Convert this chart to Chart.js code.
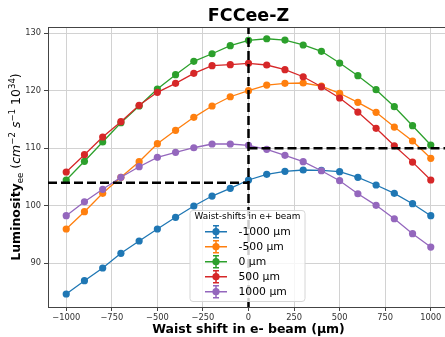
<!DOCTYPE html>
<html>
<head>
<meta charset="utf-8">
<script src="https://cdn.jsdelivr.net/npm/chart.js@4"></script>
<style>
  html, body { margin: 0; padding: 0; background: #fff; overflow: hidden; }
  #lumiChart { display: block; }
</style>
</head>
<body>
<canvas id="lumiChart" width="453" height="337"></canvas>
<script>
const chartTitle = "FCCee-Z";
const xTitle = "Waist shift in e- beam (µm)";
const legendTitle = "Waist-shifts in e+ beam";

// waist shift of the e- beam (µm)
const shiftsX = [-1000, -900, -800, -700, -600, -500, -400, -300, -200, -100, 0,
                 100, 200, 300, 400, 500, 600, 700, 800, 900, 1000];

const seriesLabels = ["-1000 µm", "-500 µm", "0 µm", "500 µm", "1000 µm"];
const lumiMinus1000 = [84.66, 86.97, 89.18, 91.74, 93.88, 95.97, 98.0, 99.97, 101.7, 103.04, 104.49,
                       105.48, 106.0, 106.23, 106.17, 105.93, 104.96, 103.62, 102.17, 100.37, 98.28];
const lumiMinus500 = [95.97, 98.98, 102.17, 104.96, 107.67, 110.8, 113.13, 115.39, 117.36, 118.97, 120.02,
                      121.0, 121.3, 121.36, 120.83, 119.57, 118.0, 116.26, 113.7, 111.27, 108.26];
const lumiZero = [104.49, 107.74, 111.1, 114.45, 117.36, 120.3, 122.8, 125.13, 126.45, 127.85, 128.78,
                  129.06, 128.83, 127.97, 126.87, 124.83, 122.63, 120.2, 117.24, 113.93, 110.57];
const lumiPlus500 = [105.88, 108.89, 111.97, 114.63, 117.48, 119.74, 121.3, 123.04, 124.37, 124.55, 124.78,
                     124.49, 123.67, 122.45, 120.7, 118.75, 116.31, 113.48, 110.45, 107.6, 104.49];
const lumiPlus1000 = [98.28, 100.71, 102.87, 104.96, 106.8, 108.43, 109.3, 110.1, 110.75, 110.75, 110.52,
                      109.83, 108.78, 107.67, 106.1, 104.37, 102.1, 100.08, 97.75, 95.15, 92.83];

const xTicks = [-1000, -750, -500, -250, 0, 250, 500, 750, 1000];
const yTicks = [90, 100, 110, 120, 130];

// reference lines
const refShiftX = 0;
const refLumiLeft = 104;
const refLumiRight = 110;

const xMin = -1100, xMax = 1100;
const yMin = 82.4, yMax = 131.1;

const seriesValues = [lumiMinus1000, lumiMinus500, lumiZero, lumiPlus500, lumiPlus1000];
const seriesColors = ["#1f77b4", "#ff7f0e", "#2ca02c", "#d62728", "#9467bd"];

const FONT = '"DejaVu Sans", sans-serif';

function toPoints(values) {
    return shiftsX.map((x, i) => ({ x: x, y: values[i] }));
}

function formatTick(v) {
    return v < 0 ? "\u2212" + Math.abs(v) : String(v);
}

const datasets = seriesValues.map((values, i) => ({
    label: seriesLabels[i],
    data: toPoints(values),
    borderColor: seriesColors[i],
    backgroundColor: seriesColors[i],
    borderWidth: 1.3,
    pointRadius: 3.6,
    pointBorderWidth: 0,
    pointBackgroundColor: seriesColors[i],
    tension: 0,
    order: seriesValues.length - i
}));

const dashStyle = {
    borderColor: "#000",
    borderWidth: 2.5,
    borderDash: [9, 4],
    pointRadius: 0,
    order: 0
};
datasets.push({ ...dashStyle, data: [{ x: xMin, y: refLumiLeft }, { x: refShiftX, y: refLumiLeft }] });
datasets.push({ ...dashStyle, data: [{ x: refShiftX, y: refLumiRight }, { x: xMax, y: refLumiRight }] });
datasets.push({ ...dashStyle, data: [{ x: refShiftX, y: yMin }, { x: refShiftX, y: yMax }] });

function drawRuns(ctx, runs, cx, cy) {
    let total = 0;
    runs.forEach(r => { ctx.font = r.font; r.w = ctx.measureText(r.text).width; total += r.w; });
    let x = cx - total / 2;
    runs.forEach(r => {
        ctx.font = r.font;
        ctx.fillText(r.text, x, cy + (r.dy || 0));
        x += r.w;
    });
}

function drawYLabel(ctx, x, y) {
    const big = "12.5px " + FONT;
    const small = "8.6px " + FONT;
    const runs = [
        { text: "Luminosity", font: "bold " + big },
        { text: "ee", font: small, dy: 3 },
        { text: " (", font: big },
        { text: "cm", font: "italic " + big },
        { text: "\u22122", font: small, dy: -5 },
        { text: " ", font: big },
        { text: "s", font: "italic " + big },
        { text: "\u22121", font: small, dy: -5 },
        { text: " 10", font: big },
        { text: "34", font: small, dy: -5 },
        { text: ")", font: big }
    ];
    ctx.save();
    ctx.translate(x, y);
    ctx.rotate(-Math.PI / 2);
    ctx.fillStyle = "#000";
    ctx.textAlign = "left";
    ctx.textBaseline = "alphabetic";
    drawRuns(ctx, runs, 0, 0);
    ctx.restore();
}

function drawLegend(ctx) {
    const box = { x: 190, y: 210.5, w: 115, h: 91 };
    ctx.save();
    ctx.beginPath();
    ctx.roundRect(box.x, box.y, box.w, box.h, 3);
    ctx.fillStyle = "rgba(255,255,255,0.8)";
    ctx.fill();
    ctx.strokeStyle = "#d6d6d6";
    ctx.lineWidth = 1;
    ctx.stroke();

    ctx.fillStyle = "#000";
    ctx.font = "8.9px " + FONT;
    ctx.textAlign = "center";
    ctx.textBaseline = "middle";
    ctx.fillText(legendTitle, box.x + box.w / 2, 217);

    seriesLabels.forEach((label, i) => {
        const y = 231.7 + i * 15;
        const c = seriesColors[i];
        ctx.strokeStyle = c;
        ctx.lineWidth = 1.5;
        ctx.beginPath();
        ctx.moveTo(205, y); ctx.lineTo(227, y);
        ctx.moveTo(216, y - 6); ctx.lineTo(216, y + 6);
        ctx.moveTo(213, y - 6); ctx.lineTo(219, y - 6);
        ctx.moveTo(213, y + 6); ctx.lineTo(219, y + 6);
        ctx.stroke();
        ctx.fillStyle = c;
        ctx.beginPath();
        ctx.arc(216, y, 3.6, 0, Math.PI * 2);
        ctx.fill();
        ctx.fillStyle = "#000";
        ctx.font = "10.8px " + FONT;
        ctx.textAlign = "left";
        ctx.fillText(label, 238.5, y);
    });
    ctx.restore();
}

const decorations = {
    id: "decorations",
    afterDraw(chart) {
        const ctx = chart.ctx;
        const area = chart.chartArea;
        ctx.save();
        ctx.strokeStyle = "#444";
        ctx.lineWidth = 1;
        ctx.beginPath();
        ctx.moveTo(area.left, area.top + 0.5);
        ctx.lineTo(area.right, area.top + 0.5);
        ctx.stroke();

        ctx.fillStyle = "#000";
        ctx.font = "bold 17.5px " + FONT;
        ctx.textAlign = "center";
        ctx.textBaseline = "alphabetic";
        ctx.fillText(chartTitle, (area.left + area.right) / 2, 21);
        ctx.restore();

        drawYLabel(ctx, 20, (area.top + area.bottom) / 2);
        drawLegend(ctx);
    }
};

const gridStyle = {
    color: "#d2d2d2",
    lineWidth: 1,
    tickColor: "#444",
    tickLength: 4
};
const tickFont = { family: FONT, size: 8.3 };

new Chart(document.getElementById("lumiChart").getContext("2d"), {
    type: "line",
    data: { datasets: datasets },
    options: {
        responsive: false,
        animation: false,
        layout: { padding: { top: 27, right: 1, left: 0, bottom: 0 } },
        plugins: { legend: { display: false }, tooltip: { enabled: false } },
        scales: {
            x: {
                type: "linear",
                min: xMin,
                max: xMax,
                afterBuildTicks: s => { s.ticks = xTicks.map(v => ({ value: v })); },
                afterFit: s => { s.height = 30; s.paddingLeft = 0; s.paddingRight = 0; },
                ticks: { callback: formatTick, font: tickFont, color: "#333", padding: 2, maxRotation: 0, autoSkip: false },
                grid: gridStyle,
                border: { color: "#444", width: 1 },
                title: {
                    display: true,
                    text: xTitle,
                    color: "#000",
                    font: { family: FONT, size: 12.5, weight: "bold" },
                    padding: { top: 0, bottom: 0 }
                }
            },
            y: {
                min: yMin,
                max: yMax,
                afterBuildTicks: s => { s.ticks = yTicks.map(v => ({ value: v })); },
                afterFit: s => { s.width = 48; s.paddingTop = 0; s.paddingBottom = 0; },
                ticks: { font: tickFont, color: "#333", padding: 3 },
                grid: gridStyle,
                border: { color: "#444", width: 1 }
            }
        }
    },
    plugins: [decorations]
});
</script>
</body>
</html>
